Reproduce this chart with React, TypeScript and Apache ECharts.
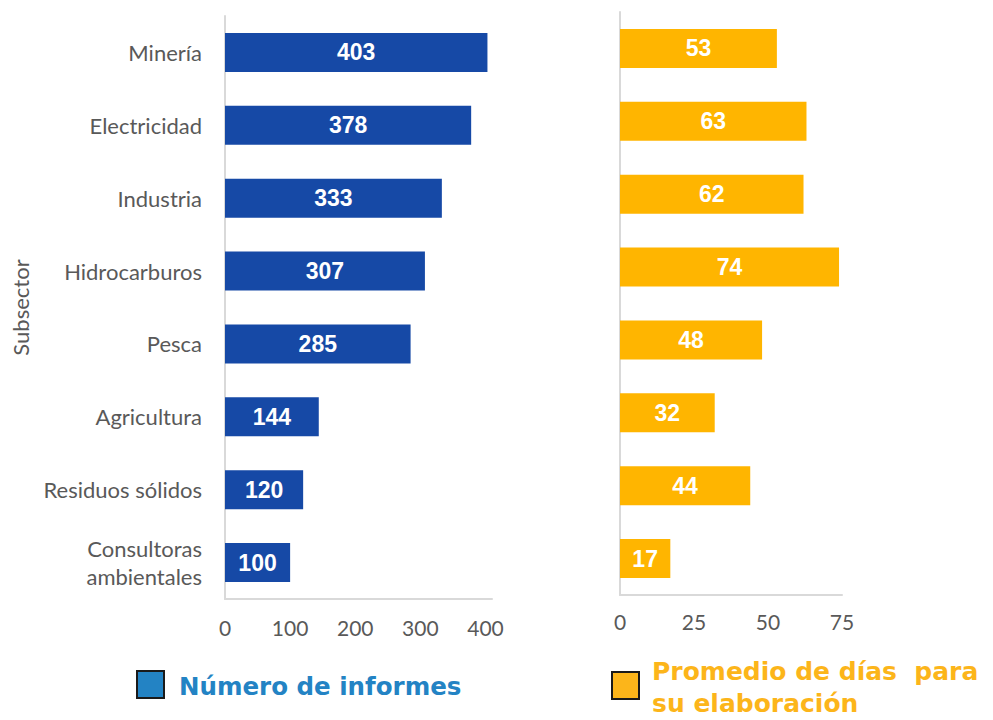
import React, { useEffect, useRef } from "react";
import * as echarts from "echarts";

const categories = [
  "Minería",
  "Electricidad",
  "Industria",
  "Hidrocarburos",
  "Pesca",
  "Agricultura",
  "Residuos sólidos",
  "Consultoras\nambientales",
];
const numeroInformes = [403, 378, 333, 307, 285, 144, 120, 100];
const promedioDias = [53, 63, 62, 74, 48, 32, 44, 17];
const legendLabels = ["Número de informes", "Promedio de días  para", "su elaboración"];
const axisTitle = "Subsector";

const BLUE = "#1649A6";
const YELLOW = "#FFB500";
const GRAY = "#595959";
const LINE = "#D9D9D9";

export default function App() {
  const ref = useRef<HTMLDivElement>(null);
  useEffect(() => {
    if (!ref.current) return;
    const chart = echarts.init(ref.current, null, { renderer: "svg" });
    const labelFont = "Lato, 'Noto Sans', sans-serif";
    const barLabel = {
      show: true,
      position: "inside",
      color: "#FFFFFF",
      fontWeight: "bold",
      fontSize: 23,
      fontFamily: "'Liberation Sans', Arial, sans-serif",
    };
    const legendFontFamily = "'DejaVu Sans', sans-serif";
    chart.setOption({
      animation: false,
      backgroundColor: "#FFFFFF",
      grid: [
        { left: 225, top: 16, width: 267, height: 583, containLabel: false },
        { left: 620, top: 12, width: 222, height: 583, containLabel: false },
      ],
      xAxis: [
        {
          type: "value",
          gridIndex: 0,
          min: 0,
          max: 410,
          interval: 100,
          splitLine: { show: false },
          axisTick: { show: false },
          axisLine: { show: true, lineStyle: { color: LINE, width: 2 } },
          axisLabel: {
            color: GRAY,
            fontSize: 21,
            fontFamily: labelFont,
            margin: 18,
            showMaxLabel: false,
          },
        },
        {
          type: "value",
          gridIndex: 1,
          min: 0,
          max: 75,
          interval: 25,
          splitLine: { show: false },
          axisTick: { show: false },
          axisLine: { show: true, lineStyle: { color: LINE, width: 2 } },
          axisLabel: {
            color: GRAY,
            fontSize: 21,
            fontFamily: labelFont,
            margin: 16,
          },
        },
      ],
      yAxis: [
        {
          type: "category",
          gridIndex: 0,
          data: categories,
          inverse: true,
          axisTick: { show: false },
          axisLine: { show: true, lineStyle: { color: LINE, width: 2 } },
          axisLabel: {
            color: GRAY,
            fontSize: 22,
            fontFamily: labelFont,
            margin: 23,
            lineHeight: 28,
            align: "right",
          },
          name: axisTitle,
          nameLocation: "middle",
          nameRotate: 90,
          nameGap: 194,
          nameTextStyle: { color: GRAY, fontSize: 22, fontFamily: labelFont },
        },
        {
          type: "category",
          gridIndex: 1,
          data: categories,
          inverse: true,
          axisTick: { show: false },
          axisLine: { show: true, lineStyle: { color: LINE, width: 2 } },
          axisLabel: { show: false },
        },
      ],
      series: [
        {
          type: "bar",
          name: legendLabels[0],
          xAxisIndex: 0,
          yAxisIndex: 0,
          data: numeroInformes,
          barWidth: 39,
          itemStyle: { color: BLUE },
          label: barLabel,
        },
        {
          type: "bar",
          name: legendLabels[1] + " " + legendLabels[2],
          xAxisIndex: 1,
          yAxisIndex: 1,
          data: promedioDias,
          barWidth: 39,
          itemStyle: { color: YELLOW },
          label: barLabel,
        },
      ],
      graphic: [
        {
          type: "rect",
          shape: { x: 137, y: 671, width: 27, height: 27 },
          style: { fill: "#2383C4", stroke: "#1A1A1A", lineWidth: 2 },
        },
        {
          type: "text",
          x: 179,
          y: 686,
          style: {
            text: legendLabels[0],
            fill: "#2383C4",
            fontFamily: legendFontFamily,
            fontWeight: "bold",
            fontSize: 24.5,
            verticalAlign: "middle",
            align: "left",
          },
        },
        {
          type: "rect",
          shape: { x: 612, y: 672, width: 27, height: 27 },
          style: { fill: "#FCB51A", stroke: "#1A1A1A", lineWidth: 2 },
        },
        {
          type: "text",
          x: 652,
          y: 671,
          style: {
            text: legendLabels[1],
            fill: "#FCB51A",
            fontFamily: legendFontFamily,
            fontWeight: "bold",
            fontSize: 25,
            verticalAlign: "middle",
            align: "left",
          },
        },
        {
          type: "text",
          x: 652,
          y: 703,
          style: {
            text: legendLabels[2],
            fill: "#FCB51A",
            fontFamily: legendFontFamily,
            fontWeight: "bold",
            fontSize: 25,
            verticalAlign: "middle",
            align: "left",
          },
        },
      ],
    });
    return () => chart.dispose();
  }, []);
  return (
    <div
      ref={ref}
      style={{ position: "fixed", left: 0, top: 0, width: 993, height: 720 }}
    />
  );
}
